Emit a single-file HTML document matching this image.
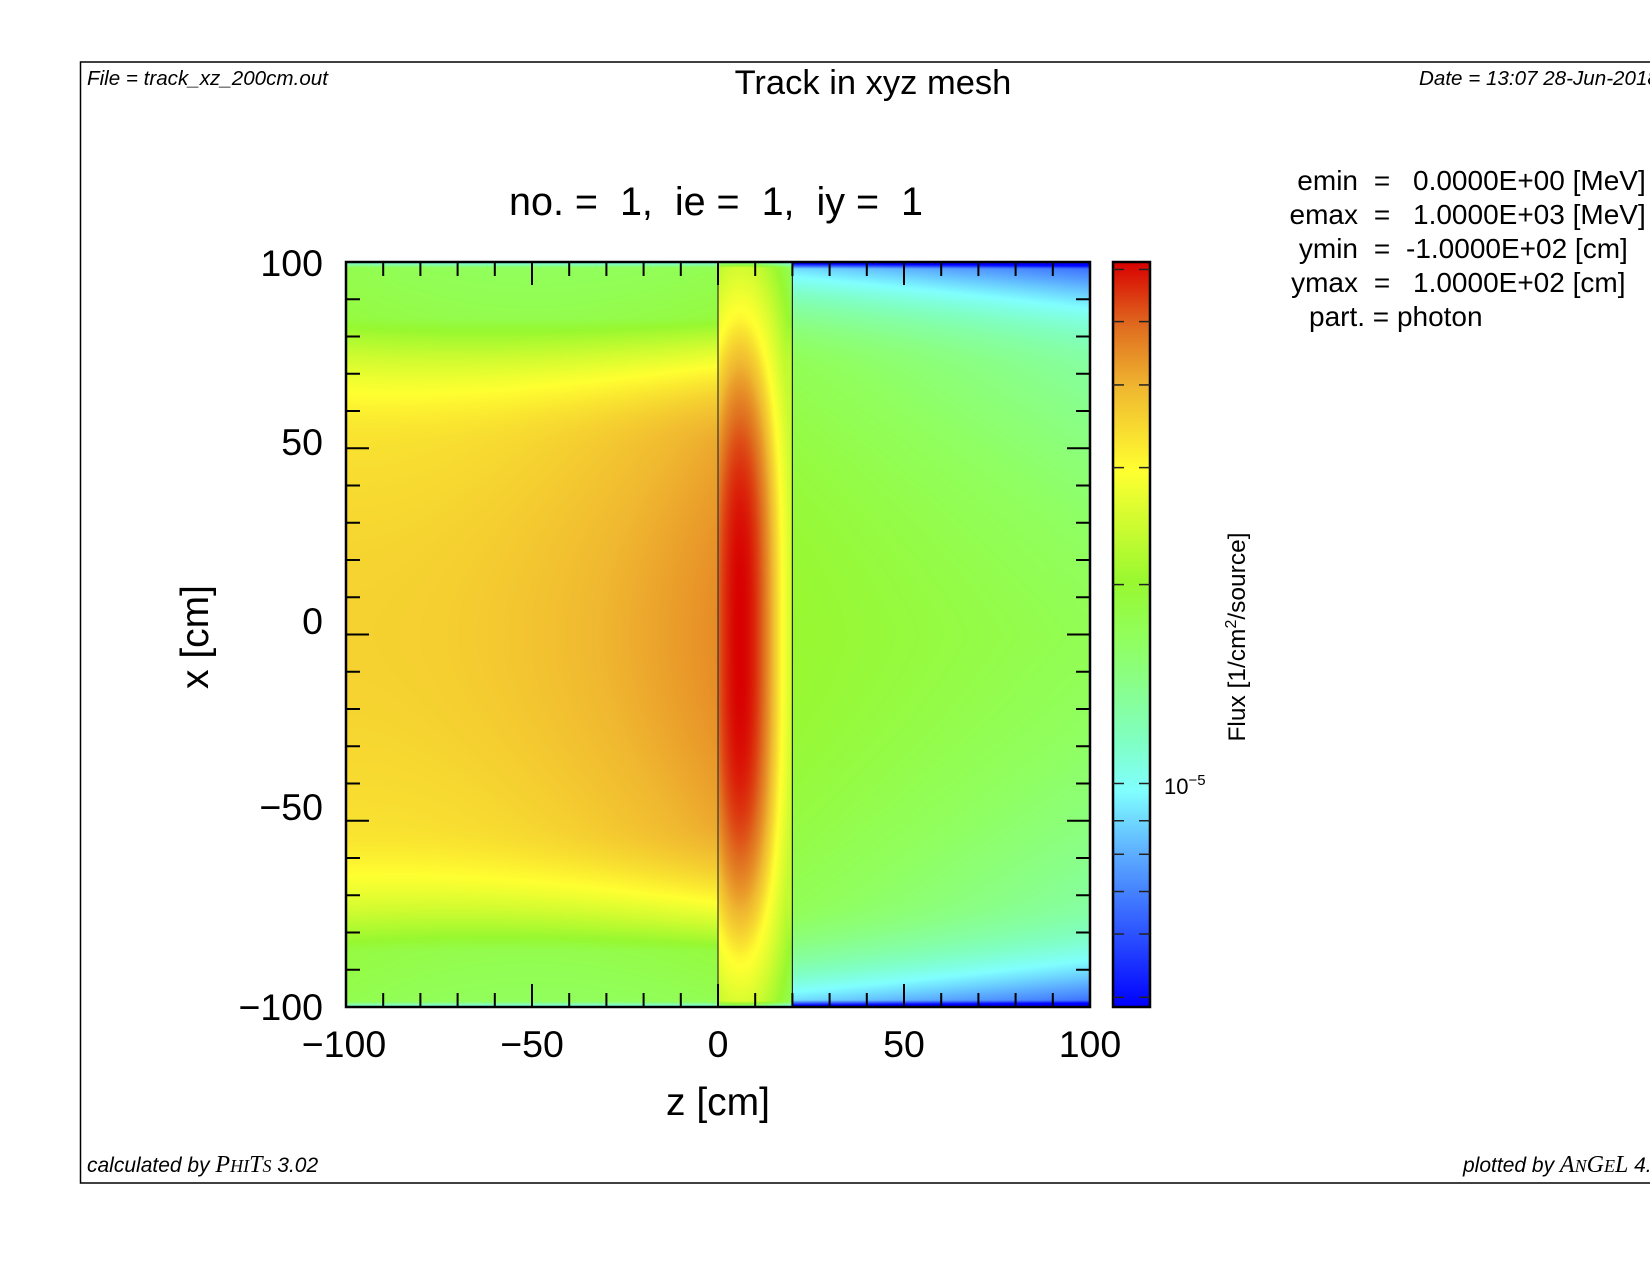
<!DOCTYPE html>
<html><head><meta charset="utf-8"><style>
html,body{margin:0;padding:0;width:1650px;height:1275px;overflow:hidden;background:#fff}
#c{position:absolute;left:346px;top:262px}
svg{position:absolute;left:0;top:0}
text{font-family:"Liberation Sans",sans-serif;fill:#000}
</style></head><body>
<canvas id="c" width="744" height="745"></canvas>
<svg width="1650" height="1275" viewBox="0 0 1650 1275">
<defs>
<linearGradient id="cb" x1="0" y1="1" x2="0" y2="0">
<stop offset="0" stop-color="#0000ff"/>
<stop offset="0.2" stop-color="#5aa8ff"/>
<stop offset="0.29" stop-color="#80ffff"/>
<stop offset="0.36" stop-color="#80ffc0"/>
<stop offset="0.49" stop-color="#90ff60"/>
<stop offset="0.57" stop-color="#98f830"/>
<stop offset="0.72" stop-color="#ffff30"/>
<stop offset="0.83" stop-color="#f0b830"/>
<stop offset="0.91" stop-color="#e07020"/>
<stop offset="1" stop-color="#d80000"/>
</linearGradient>
</defs>
<path d="M1650,62 H80.5 V1183 H1650" fill="none" stroke="#000" stroke-width="1.5"/>
<text x="87" y="85" font-size="20.6" font-style="italic">File = track_xz_200cm.out</text>
<text x="873" y="94" font-size="34.5" text-anchor="middle">Track in xyz mesh</text>
<text x="1419" y="85" font-size="20.6" font-style="italic">Date = 13:07 28-Jun-2018</text>
<text x="87" y="1172" font-size="21" font-style="italic">calculated by <tspan font-family="Liberation Serif" font-size="24">P<tspan font-size="18">HI</tspan>T<tspan font-size="18">S</tspan></tspan> 3.02</text>
<text x="1463" y="1172" font-size="21" font-style="italic">plotted by <tspan font-family="Liberation Serif" font-size="24">A<tspan font-size="18">N</tspan>G<tspan font-size="18">E</tspan>L</tspan> 4.5</text>
<g font-size="28">
<text x="1358" y="190" text-anchor="end">emin</text><text x="1382" y="190" text-anchor="middle">=</text><text x="1413" y="190">0.0000E+00 [MeV]</text>
<text x="1358" y="224" text-anchor="end">emax</text><text x="1382" y="224" text-anchor="middle">=</text><text x="1413" y="224">1.0000E+03 [MeV]</text>
<text x="1358" y="258" text-anchor="end">ymin</text><text x="1382" y="258" text-anchor="middle">=</text><text x="1406" y="258">-1.0000E+02 [cm]</text>
<text x="1358" y="292" text-anchor="end">ymax</text><text x="1382" y="292" text-anchor="middle">=</text><text x="1413" y="292">1.0000E+02 [cm]</text>
<text x="1309" y="326">part. = photon</text>
</g>
<text x="716" y="215" font-size="39.5" text-anchor="middle" xml:space="preserve">no. =  1,  ie =  1,  iy =  1</text>
<line x1="718" y1="262" x2="718" y2="1007" stroke="#333" stroke-width="1.2"/>
<line x1="792.4" y1="262" x2="792.4" y2="1007" stroke="#222" stroke-width="1.2"/>
<g id="ticks" stroke="#000" stroke-width="2"></g>
<rect x="346" y="262" width="744" height="745" fill="none" stroke="#000" stroke-width="2.5"/>
<g font-size="37.5" text-anchor="end">
<text x="323" y="276">100</text><text x="323" y="455">50</text><text x="323" y="634">0</text><text x="323" y="820">−50</text><text x="323" y="1020">−100</text>
</g>
<g font-size="37.5" text-anchor="middle">
<text x="344" y="1057">−100</text><text x="532" y="1057">−50</text><text x="718" y="1057">0</text><text x="904" y="1057">50</text><text x="1090" y="1057">100</text>
</g>
<text x="718" y="1115" font-size="39" text-anchor="middle">z [cm]</text>
<text transform="translate(208,637) rotate(-90)" font-size="39" text-anchor="middle">x [cm]</text>
<rect x="1113" y="262" width="37" height="745" fill="url(#cb)" stroke="#000" stroke-width="2.5"/>
<g id="cbt" stroke="#222" stroke-width="1.5"></g>
<text x="1164" y="794" font-size="22">10<tspan font-size="15" dy="-9">−5</tspan></text>
<text transform="translate(1245,637) rotate(-90)" font-size="24.5" text-anchor="middle">Flux [1/cm<tspan font-size="16" dy="-9">2</tspan><tspan dy="9">/source]</tspan></text>
</svg>
<script>
(function(){
var NS="http://www.w3.org/2000/svg";
var g=document.getElementById('ticks');
function L(x1,y1,x2,y2,p){var l=document.createElementNS(NS,'line');l.setAttribute('x1',x1);l.setAttribute('y1',y1);l.setAttribute('x2',x2);l.setAttribute('y2',y2);p.appendChild(l);}
for(var v=-100;v<=100;v+=10){
 var maj=(v%50===0), len=maj?23:14;
 var X=346+(v+100)*3.72, Y=262+(100-v)*3.725;
 L(X,262,X,262+len,g);L(X,1007,X,1007-len,g);
 L(346,Y,346+len,Y,g);L(1090,Y,1090-len,Y,g);
}
var cb=document.getElementById('cbt');
[0.99,0.92,0.835,0.724,0.567,0.30,0.25,0.205,0.155,0.098,0.013].forEach(function(t){
 var Y=1007-t*745; L(1113,Y,1124,Y,cb);L(1139,Y,1150,Y,cb);});
var stops=[[0,[0,0,255]],[0.2,[90,168,255]],[0.29,[128,255,255]],[0.36,[128,255,192]],[0.49,[144,255,96]],[0.57,[152,248,48]],[0.72,[255,255,48]],[0.83,[240,184,48]],[0.91,[224,112,32]],[1,[216,0,0]]];
function cm(t){t=Math.max(0,Math.min(1,t));for(var i=1;i<stops.length;i++){if(t<=stops[i][0]){var a=stops[i-1],b=stops[i],f=(t-a[0])/(b[0]-a[0]);return [a[1][0]+(b[1][0]-a[1][0])*f,a[1][1]+(b[1][1]-a[1][1])*f,a[1][2]+(b[1][2]-a[1][2])*f];}}return stops[stops.length-1][1];}
function P(v){return v>0?v:0;}
function val(z,x){
 var u=Math.abs(x)/100,t;
 if(z<0){
  var s=(z+100)/100;
  var c=0.79+0.09*s*s;
  var q=Math.min(P(u-0.5),0.35);
  var a=(0.09*u*u+1.5*q*q)*(1+0.35*s);
  t=c-a;
  if(u>0.985)t-=(u-0.985)/0.015*0.22;
 } else if(z<20){
  var bg=0.66-0.06*u*u-2.5*P(u-0.7)*P(u-0.7);
  var xr=Math.abs(x+1)/86;
  var e=Math.pow((z-6)/11,2)+Math.pow(xr,3);
  var pk=e<=1?1.0-0.27*e:0.73-0.3*(Math.sqrt(e)-1);
  t=Math.max(bg,pk);
  if(u>0.985)t-=(u-0.985)/0.015*0.25;
 } else {
  var w=(z-20)/80;
  t=0.57-0.06*w-0.12*u*u-2.5*P(u-0.7)*P(u-0.7)-0.06*w*u;
  if(u>0.982)t-=(u-0.982)/0.018*0.3;
 }
 return t;
}
var cv=document.getElementById('c'),ctx=cv.getContext('2d');
var W=744,H=745,img=ctx.createImageData(W,H),d=img.data;
for(var j=0;j<H;j++){var x=100-(j+0.5)/H*200;
 for(var i=0;i<W;i++){var z=-100+(i+0.5)/W*200;var col=cm(val(z,x));var k=(j*W+i)*4;
  d[k]=col[0];d[k+1]=col[1];d[k+2]=col[2];d[k+3]=255;}}
ctx.putImageData(img,0,0);
})();
</script>
</body></html>
